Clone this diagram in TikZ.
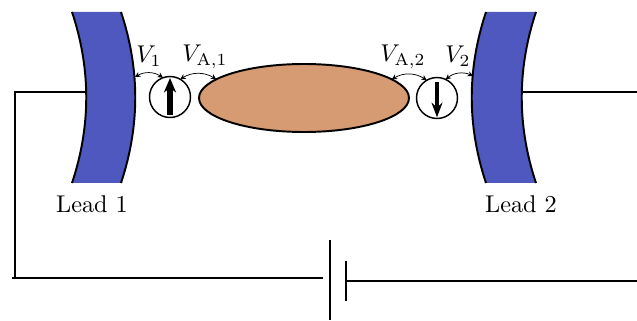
\documentclass[tikz,border=0pt]{standalone}
\usepackage{amsmath, amssymb}
\usetikzlibrary{shapes.geometric, arrows.meta}
\definecolor{leadblue}{RGB}{78, 88, 190}
\definecolor{dotorange}{RGB}{214, 155, 115}
\tikzset{
	wire/.style={black, line width=1.1pt},
	spin/.style={draw, circle, fill=white, minimum size=41*0.0145cm, inner sep=0pt, outer sep=0pt, line width=0.6pt},
	volt/.style={{Stealth[length=2.2pt,width=2.2pt]}-{Stealth[length=2.2pt,width=2.2pt]}, line width=0.3pt, bend left=32},
}
\begin{document}
\begin{tikzpicture}[x=0.0145cm, y=-0.0145cm]
	\useasboundingbox (0,0) rectangle (637,321);
	% Leads
	\fill[leadblue] (72,12) .. controls (91,69) and (91,126) .. (72,183) -- (121,183) .. controls (140,126) and (140,69) .. (121,12) -- cycle;
	\draw[thick] (72,12) .. controls (91,69) and (91,126) .. (72,183);
	\draw[thick] (121,12) .. controls (140,69) and (140,126) .. (121,183);
	\fill[leadblue] (486,12) .. controls (467,69) and (467,126) .. (486,183) -- (536,183) .. controls (517,126) and (517,69) .. (536,12) -- cycle;
	\draw[thick] (486,12) .. controls (467,69) and (467,126) .. (486,183);
	\draw[thick] (536,12) .. controls (517,69) and (517,126) .. (536,183);
	% Dot and spins
	\node[draw, ellipse, fill=dotorange, thick, minimum width=210*0.0145cm, minimum height=68*0.0145cm, inner sep=0pt, outer sep=0pt] (dot) at (304,98) {};
	\node[spin] (spinA) at (170,97) {};
	\node[spin] (spinB) at (437,98) {};
	\draw[-{Stealth[length=6pt,width=5pt]}, line width=2.2pt] ([yshift=1.2pt]spinA.south) -- ([yshift=-0.6pt]spinA.north);
	\draw[-{Stealth[length=6pt,width=4.5pt]}, line width=1.3pt] ([yshift=-2pt]spinB.north) -- ([yshift=0.5pt]spinB.south);
	% Voltages
	\coordinate (edgeA) at (135,77);
	\coordinate (edgeB) at (473,76);
	\draw[volt] (edgeA) to (spinA.110);
	\draw[volt] (spinA.60) to (dot.168);
	\draw[volt] (dot.12) to (spinB.120);
	\draw[volt] (spinB.65) to (edgeB);
	\node (labelVa) at (149,56) {$V_1$};
	\node (labelAa) at (205,57) {$V_{\mathrm{A},1}$};
	\node (labelAb) at (403,57) {$V_{\mathrm{A},2}$};
	\node (labelVb) at (458,56) {$V_2$};
	\node (labelLa) at (92,204) {Lead 1};
	\node (labelLb) at (521,204) {Lead 2};
	% Circuit
	\coordinate (wireA) at (86,92);
	\coordinate (cornerT) at (15,92);
	\coordinate (cornerB) at (12,278);
	\coordinate (batA) at (323,278);
	\coordinate (batB) at (346,281);
	\coordinate (wireB) at (523,92);
	\coordinate (endB) at (637,92);
	\coordinate (endC) at (637,281);
	\coordinate (plateAt) at (330,240);
	\coordinate (plateAb) at (330,320);
	\coordinate (plateBt) at (346,261);
	\coordinate (plateBb) at (346,301);
	\draw[wire] (wireA) -- (cornerT) -- (cornerT |- cornerB);
	\draw[wire] (cornerB) -- (batA);
	\draw[wire] (batB) -- (endC);
	\draw[wire] (wireB) -- (endB);
	\draw[wire] (plateAt) -- (plateAb);
	\draw[wire] (plateBt) -- (plateBb);
\end{tikzpicture}
\end{document}
